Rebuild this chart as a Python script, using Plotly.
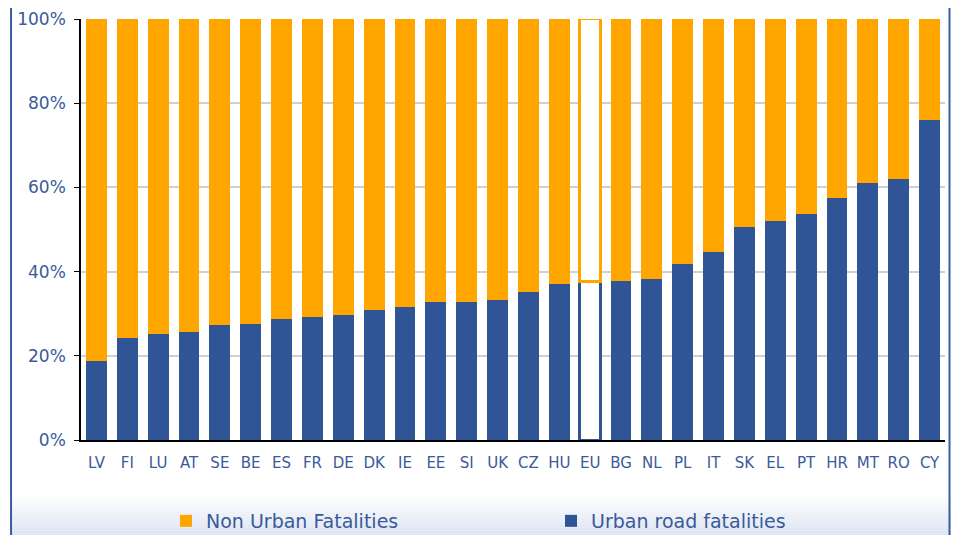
import plotly.graph_objects as go

countries = ["LV", "FI", "LU", "AT", "SE", "BE", "ES", "FR", "DE", "DK", "IE", "EE", "SI", "UK",
             "CZ", "HU", "EU", "BG", "NL", "PL", "IT", "SK", "EL", "PT", "HR", "MT", "RO", "CY"]
urban_pct = [18.8, 24.2, 25.2, 25.7, 27.3, 27.6, 28.7, 29.2, 29.7, 30.9, 31.6, 32.8, 32.8, 33.3,
             35.2, 37.1, 37.6, 37.8, 38.2, 41.8, 44.7, 50.6, 52.0, 53.7, 57.5, 61.0, 62.0, 76.0]
non_urban_pct = [100 - u for u in urban_pct]

BLUE = "#2F5597"
ORANGE = "#FFA500"
TEXT = "#3A5A9A"
FONT = "DejaVu Sans"

urban = [u / 100 for u in urban_pct]
non_urban = [n / 100 for n in non_urban_pct]

is_eu = [c == "EU" for c in countries]
urban_fill = ["white" if e else BLUE for e in is_eu]
non_fill = ["white" if e else ORANGE for e in is_eu]
urban_lw = [2.5 if e else 0 for e in is_eu]
non_lw = [2.5 if e else 0 for e in is_eu]

fig = go.Figure()
fig.add_trace(go.Bar(
    x=countries, y=urban, name="Urban road fatalities",
    marker=dict(color=urban_fill, line=dict(color=BLUE, width=urban_lw)),
    legend="legend2", showlegend=True,
))
fig.add_trace(go.Bar(
    x=countries, y=non_urban, name="Non Urban Fatalities",
    marker=dict(color=non_fill, line=dict(color=ORANGE, width=non_lw)),
    legend="legend", showlegend=True,
))

OFF = 8  # page body margin
W, H = 959 - OFF, 535 - OFF
PL, PR, PT, PB = 81 - OFF, 945.5 - OFF, 19 - OFF, 440 - OFF  # plot area in figure px


def cy(p):
    return 1 - (p - OFF) / H


def cx(p):
    return (p - OFF) / W


def py(p):
    return (PB - (p - OFF)) / (PB - PT)


def px(p):
    return ((p - OFF) - PL) / (PR - PL)


shapes = []
n = 14
top, bot = 496, 540
for i in range(n):
    y0 = top + (bot - top) * i / n
    y1 = top + (bot - top) * (i + 1) / n
    shapes.append(dict(type="rect", xref="paper", yref="paper",
                       x0=px(12), x1=px(953), y0=py(y1), y1=py(y0),
                       fillcolor="#D5DFF0", opacity=(i + 1) / n * 0.9,
                       line=dict(width=0), layer="below"))
# frame: left and right edges
for xe in (11, 950):
    shapes.append(dict(type="line", xref="paper", yref="paper",
                       x0=px(xe), x1=px(xe), y0=py(545), y1=py(0),
                       line=dict(color="#3B5CA0", width=2)))

fig.update_layout(
    barmode="stack",
    bargap=0.32,
    width=W, height=H,
    margin=dict(l=PL, r=W - PR, t=PT, b=H - PB, autoexpand=False),
    paper_bgcolor="white", plot_bgcolor="white",
    font=dict(family=FONT, color=TEXT),
    shapes=shapes,
    showlegend=True,
    legend=dict(xref="container", yref="container", x=cx(166), y=cy(521),
                xanchor="left", yanchor="middle",
                orientation="h", font=dict(size=19, color=TEXT, family=FONT),
                bgcolor="rgba(0,0,0,0)"),
    legend2=dict(xref="container", yref="container", x=cx(551), y=cy(521),
                 xanchor="left", yanchor="middle",
                 orientation="h", font=dict(size=19, color=TEXT, family=FONT),
                 bgcolor="rgba(0,0,0,0)"),
    xaxis=dict(showline=True, linecolor="black", linewidth=1.5,
               tickfont=dict(size=15, color=TEXT, family=FONT),
               ticks="", showgrid=False, ticklabelstandoff=8),
    yaxis=dict(range=[0, 1], tickvals=[0, 0.2, 0.4, 0.6, 0.8, 1.0],
               tickformat=".0%", showline=True, linecolor="black", linewidth=1.5,
               ticks="outside", ticklen=5, tickcolor="black",
               gridcolor="#D0D0D0", gridwidth=1.5,
               ticklabelstandoff=5,
               tickfont=dict(size=17, color=TEXT, family=FONT), zeroline=False),
)

fig.write_html("out.html")
